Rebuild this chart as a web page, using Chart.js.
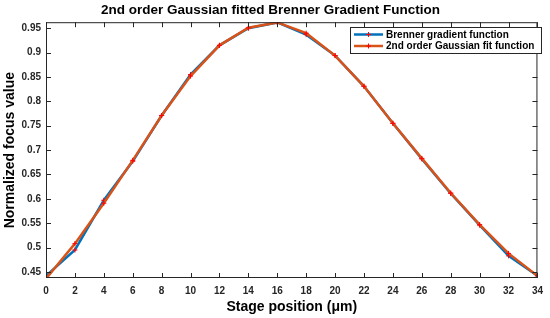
<!DOCTYPE html>
<html>
<head>
<meta charset="utf-8">
<script src="https://cdn.jsdelivr.net/npm/chart.js@4.4.1/dist/chart.umd.min.js"></script>
<style>
html,body{margin:0;padding:0;background:#fff;}
#wrap{width:550px;height:318px;}
</style>
</head>
<body>
<div id="wrap"><canvas id="c" width="550" height="318"></canvas></div>
<script>
const stagePositions = [0,2,4,6,8,10,12,14,16,18,20,22,24,26,28,30,32,34];
const brennerValues = [0.442,0.495,0.597,0.677,0.771,0.855,0.915,0.950,0.962,0.937,0.894,0.831,0.755,0.682,0.611,0.546,0.483,0.442];
const gaussFitValues = [0.436,0.508,0.591,0.679,0.771,0.852,0.915,0.951,0.962,0.940,0.894,0.831,0.755,0.683,0.612,0.547,0.488,0.442];
const xTicks = [0,2,4,6,8,10,12,14,16,18,20,22,24,26,28,30,32,34];
const yTicks = [0.45,0.5,0.55,0.6,0.65,0.7,0.75,0.8,0.85,0.9,0.95];
const seriesLabels = ['Brenner gradient function','2nd order Gaussian fit function'];

const txt = '#262626';
const FONT = '"Liberation Sans", Arial, sans-serif';

function pts(xs, ys){ return xs.map((x,i)=>({x:x,y:ys[i]})); }

const frame = {
  id:'frame',
  afterDatasetsDraw(chart){
    const ctx = chart.ctx, a = chart.chartArea;
    const xs = chart.scales.x, ys = chart.scales.y;
    ctx.save();
    ctx.strokeStyle = txt; ctx.lineWidth = 1;
    ctx.strokeRect(a.left+0.5, a.top+0.5, a.right-a.left-1, a.bottom-a.top-1);
    ctx.beginPath();
    xTicks.forEach(v=>{
      const p = Math.round(xs.getPixelForValue(v))+0.5;
      ctx.moveTo(p,a.bottom); ctx.lineTo(p,a.bottom-5);
      ctx.moveTo(p,a.top); ctx.lineTo(p,a.top+5);
    });
    yTicks.forEach(v=>{
      const p = Math.round(ys.getPixelForValue(v))+0.5;
      ctx.moveTo(a.left,p); ctx.lineTo(a.left+5,p);
      ctx.moveTo(a.right,p); ctx.lineTo(a.right-5,p);
    });
    ctx.stroke();
    // legend
    const bx = 350, by = 27, bw = 191, bh = 26;
    ctx.fillStyle = '#fff';
    ctx.fillRect(bx,by,bw,bh);
    ctx.strokeStyle = txt; ctx.lineWidth = 1;
    ctx.strokeRect(bx+0.5,by+0.5,bw,bh);
    ctx.font = 'bold 10px ' + FONT;
    ctx.textBaseline = 'middle';
    chart.data.datasets.forEach((ds,i)=>{
      const yy = by + 7.5 + i*11.5;
      ctx.strokeStyle = ds.borderColor; ctx.lineWidth = 2.5;
      ctx.beginPath(); ctx.moveTo(354,yy); ctx.lineTo(383,yy); ctx.stroke();
      ctx.strokeStyle = '#ff0000'; ctx.lineWidth = 1;
      ctx.beginPath(); ctx.moveTo(368.5,yy-2.5); ctx.lineTo(368.5,yy+2.5); ctx.moveTo(366,yy); ctx.lineTo(371,yy); ctx.stroke();
      ctx.fillStyle = '#000';
      ctx.fillText(ds.label, 386, yy+0.5);
    });
    ctx.restore();
  }
};

new Chart(document.getElementById('c'), {
  type:'line',
  data:{
    datasets:[
      {label:seriesLabels[0], data:pts(stagePositions,brennerValues), borderColor:'#0072BD', borderWidth:2.5,
       pointStyle:'cross', pointRadius:2.5, pointBorderColor:'#ff0000', pointBorderWidth:1, order:2, tension:0},
      {label:seriesLabels[1], data:pts(stagePositions,gaussFitValues), borderColor:'#D95319', borderWidth:2.5,
       pointStyle:'cross', pointRadius:2.5, pointBorderColor:'#ff0000', pointBorderWidth:1, order:1, tension:0}
    ]
  },
  options:{
    responsive:false, animation:false, devicePixelRatio:1,
    layout:{padding:{left:0,right:9,top:0,bottom:0}},
    plugins:{
      legend:{display:false}, tooltip:{enabled:false},
      title:{display:true, text:'2nd order Gaussian fitted Brenner Gradient Function', color:'#000',
        font:{family:FONT, size:13.5, weight:'bold'}, padding:{top:2,bottom:4}}
    },
    scales:{
      x:{type:'linear', min:0, max:34,
        afterBuildTicks(s){ s.ticks = xTicks.map(v=>({value:v})); },
        afterFit(s){ s.height = 40; },
        grid:{display:false, drawTicks:false}, border:{display:false},
        ticks:{color:txt, font:{family:FONT, size:10, weight:'bold'}, padding:7, maxRotation:0, autoSkip:false},
        title:{display:true, text:'Stage position (μm)', color:'#000', font:{family:FONT, size:14, weight:'bold'}, padding:{top:0,bottom:2}}
      },
      y:{type:'linear', min:0.4375, max:0.9625,
        afterBuildTicks(s){ s.ticks = yTicks.map(v=>({value:v})); },
        afterFit(s){ s.width = 46; },
        grid:{display:false, drawTicks:false}, border:{display:false},
        ticks:{color:txt, font:{family:FONT, size:10, weight:'bold'}, padding:5, autoSkip:false,
          callback:(v)=>String(Math.round(v*100)/100)},
        title:{display:true, text:'Normalized focus value', color:'#000', font:{family:FONT, size:14, weight:'bold'}, padding:{top:2,bottom:0}}
      }
    }
  },
  plugins:[frame]
});
</script>
</body>
</html>
